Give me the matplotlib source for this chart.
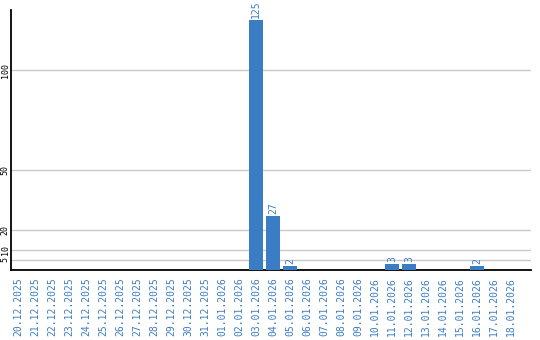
import matplotlib
matplotlib.use("Agg")
import matplotlib.pyplot as plt

# daily counts
dates = [
    "20.12.2025", "21.12.2025", "22.12.2025", "23.12.2025", "24.12.2025",
    "25.12.2025", "26.12.2025", "27.12.2025", "28.12.2025", "29.12.2025",
    "30.12.2025", "31.12.2025", "01.01.2026", "02.01.2026", "03.01.2026",
    "04.01.2026", "05.01.2026", "06.01.2026", "07.01.2026", "08.01.2026",
    "09.01.2026", "10.01.2026", "11.01.2026", "12.01.2026", "13.01.2026",
    "14.01.2026", "15.01.2026", "16.01.2026", "17.01.2026", "18.01.2026",
]
counts = [0, 0, 0, 0, 0, 0, 0, 0, 0, 0, 0, 0, 0, 0, 125,
          27, 2, 0, 0, 0, 0, 0, 3, 3, 0, 0, 0, 2, 0, 0]
ytick_values = [5, 10, 20, 50, 100]

bar_color = '#3b7dc4'
font = 'DejaVu Sans Mono'

fig = plt.figure(figsize=(5.4, 3.4), dpi=100)
ax = fig.add_axes([11 / 540, 70 / 340, 520 / 540, 260 / 340])

x = list(range(len(dates)))
ax.bar(x, counts, width=14 / 17, color=bar_color, zorder=3)

# value labels above non-zero bars
for xi, c in zip(x, counts):
    if c > 0:
        ax.text(xi, c + 1, str(c), rotation=90, ha='center', va='bottom',
                color=bar_color, fontsize=7, family=font)

ax.set_xlim(-7 / 17, 30.18)
ax.set_ylim(0, 130)

ax.set_yticks(ytick_values)
ax.set_yticklabels([str(v) for v in ytick_values], rotation=90, va='center',
                   fontsize=6, family=font)
ax.yaxis.grid(True, color='#c8c8c8', linewidth=1)
ax.set_axisbelow(True)

ax.set_xticks(x)
ax.set_xticklabels(dates, rotation=90, fontsize=7, family=font, color=bar_color)
ax.tick_params(axis='both', length=0)
ax.tick_params(axis='x', pad=5)
ax.tick_params(axis='y', pad=1)

for side in ['top', 'right']:
    ax.spines[side].set_visible(False)
ax.spines['left'].set_linewidth(1.3)
ax.spines['bottom'].set_linewidth(1.3)

fig.savefig('out.png', dpi=100)
